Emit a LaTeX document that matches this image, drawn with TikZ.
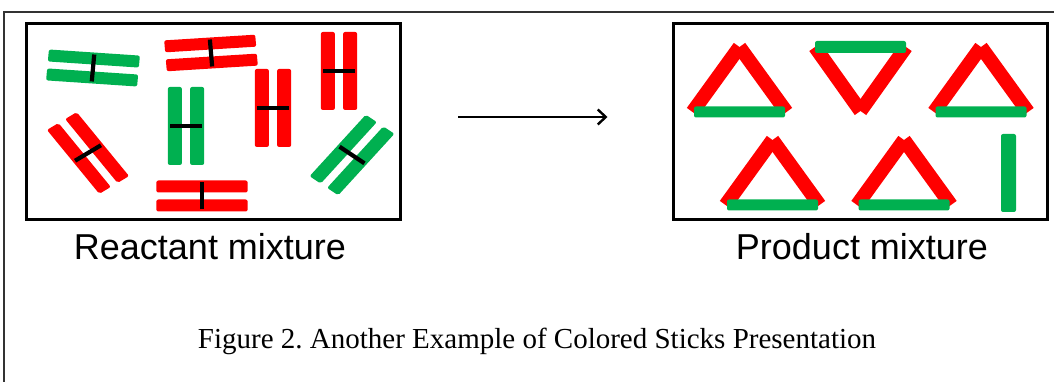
\documentclass[tikz,border=0pt]{standalone}
\usepackage{fontspec}
\setmainfont{Liberation Serif}
\setsansfont{Liberation Sans}
\usetikzlibrary{positioning,arrows.meta}
\definecolor{stickred}{RGB}{255,0,0}
\definecolor{stickgreen}{RGB}{0,176,80}

% two sticks held by a black crossbar: x, y, angle, colour
\newcommand{\stickpair}[4]{%
  \begin{scope}[shift={(#1,#2)},xscale=1.17,rotate=#3]
    \fill[#4,rounded corners=2pt] (-15.5,-39) rectangle (-3.5,39);
    \fill[#4,rounded corners=2pt] (3.5,-39) rectangle (15.5,39);
    \draw[crossbar] (-13.5,0) -- (13.5,0);
  \end{scope}}
% triangle with apex up: apex x, base y
\newcommand{\triup}[2]{%
  \draw[redstick] (#1-47,#2) -- (#1,#2+65);
  \draw[redstick] (#1+47,#2) -- (#1,#2+65);
  \fill[greenstick] (#1-45.5,#2-5.5) rectangle (#1+45.5,#2+5.5);}
% triangle with apex down: apex x, top y
\newcommand{\tridown}[2]{%
  \draw[redstick] (#1-45.5,#2) -- (#1,#2-64);
  \draw[redstick] (#1+45.5,#2) -- (#1,#2-64);
  \fill[greenstick] (#1-45.5,#2-6) rectangle (#1+45.5,#2+6);}

\begin{document}
\frenchspacing
\begin{tikzpicture}[%
    x=1pt, y=1pt,
    >={Straight Barb[length=8pt,width=15pt,line width=2.4pt]},
    redstick/.style={draw=stickred, line width=14pt},
    greenstick/.style={fill=stickgreen, rounded corners=2pt},
    crossbar/.style={draw=black, line width=4.2pt},
    mixbox/.style={%
      draw,
      line width=3pt,
      minimum width=374pt,
      minimum height=196pt,
      inner sep=0pt
    },
    mixlabel/.style={font=\sffamily\fontsize{36}{40}\selectfont, inner sep=0pt},
    caption/.style={font=\fontsize{29}{33}\selectfont, inner sep=0pt}
  ]
    \useasboundingbox (0,0) rectangle (1054,382);
    \draw[line width=1.5pt, black!80] (4,-2) -- (4,370) -- (1056,370);

    \node[mixbox] (reactant) at (213,260)   {};
    \node[mixbox] (product)  at (860.5,260) {};
    \node[mixlabel] (reactlbl) [below=12pt of reactant, xshift=-3pt] {Reactant mixture};
    \node[mixlabel] (prodlbl)  [below=12pt of product, xshift=1.5pt] {Product mixture};
    \node[caption]  (figcap)   at (537,41) {Figure 2. Another Example of Colored Sticks Presentation};

    \draw[->, line width=2.4pt, shorten <=56.5pt, shorten >=64.5pt]
      ([yshift=5pt]reactant.east) -- ([yshift=5pt]product.west);

    % reactants
    \stickpair{93}{314}{85.5}{stickgreen}
    \stickpair{211}{329}{-85.8}{stickred}
    \stickpair{339}{311}{0}{stickred}
    \stickpair{273}{274}{0}{stickred}
    \stickpair{186}{256}{0}{stickgreen}
    \stickpair{88}{229}{35}{stickred}
    \stickpair{352}{227}{-38}{stickgreen}
    \stickpair{202}{186}{90}{stickred}

    % products
    \triup{739.5}{270}
    \tridown{860.5}{335}
    \triup{981}{270}
    \triup{772.5}{177}
    \triup{904}{177}
    \fill[greenstick] (1001,170) rectangle (1016,248);
\end{tikzpicture}
\end{document}
